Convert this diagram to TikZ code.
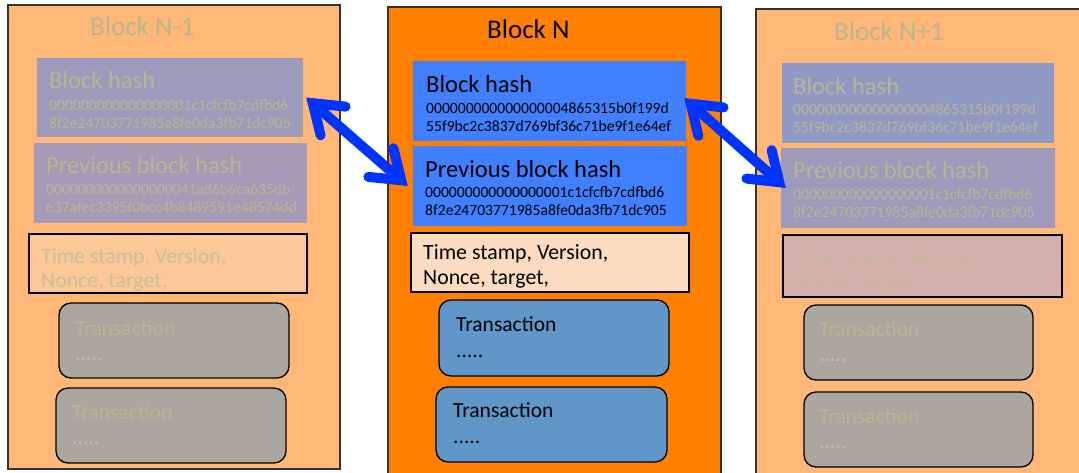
\documentclass[tikz,border=0pt]{standalone}
\usepackage{fontspec}
\setmainfont{Carlito}
\usetikzlibrary{arrows.meta,fit}

% block colours
\definecolor{sideorange}{HTML}{FFB877}
\definecolor{midorange}{HTML}{FF7F00}
\definecolor{blockline}{HTML}{333333}
\definecolor{lhashfill}{HTML}{9C9BBB}
\definecolor{lprevfill}{HTML}{A49CB6}
\definecolor{lmetafill}{HTML}{FCC898}
\definecolor{rhashfill}{HTML}{8F99C4}
\definecolor{rprevfill}{HTML}{9E9ABB}
\definecolor{rmetafill}{HTML}{D4B1AD}
\definecolor{txgrey}{HTML}{AAA6A0}
\definecolor{midblue}{HTML}{4080FF}
\definecolor{midmeta}{HTML}{FCDCC0}
\definecolor{midtx}{HTML}{6096C8}
\definecolor{linkblue}{HTML}{0033FF}
% faded text colours
\definecolor{fadetext}{HTML}{B8B792}
\definecolor{fademeta}{HTML}{C6BE9C}
\definecolor{fadepink}{HTML}{C6B79E}
\definecolor{fadedots}{HTML}{C8C49A}

\begin{document}
\begin{tikzpicture}[x=1pt,y=-1pt,
  blockbox/.style={draw=blockline, line width=1.2pt, inner sep=0pt},
  hashbox/.style={inner sep=0pt},
  metabox/.style={draw=black, line width=1.3pt, inner sep=0pt},
  txbox/.style={draw=black, line width=1.3pt, rounded corners=12pt, inner sep=0pt},
  txt/.style={anchor=base west, inner sep=0pt},
  titletxt/.style={txt, font=\fontsize{27}{30}\selectfont},
  headtxt/.style={txt, font=\fontsize{24.5}{27}\selectfont},
  hashtxt/.style={txt, font=\fontsize{15.6}{18}\selectfont},
  metatxt/.style={txt, font=\fontsize{21.8}{25}\selectfont},
  txtxt/.style={txt, font=\fontsize{21.5}{25}\selectfont},
  barb/.tip={Straight Barb[length=27pt, width=38pt, line cap=round, line join=miter]},
  link/.style={draw=linkblue, line width=10pt, barb-barb}
]
\useasboundingbox (0,0) rectangle (1079,472);

% ---------- Block N-1 ----------
\node[blockbox, fill=sideorange, fit={(8,5) (340,469)}] (lblock) {};
\node[hashbox, fill=lhashfill, fit={(37,58) (303,137)}] (lhash) {};
\node[hashbox, fill=lprevfill, fit={(34,143) (307,223)}] (lprev) {};
\node[metabox, fill=lmetafill, fit={(29,234) (307,293)}] (lmeta) {};
\node[txbox, fill=txgrey, fit={(59,303) (289,378)}] (ltx1) {};
\node[txbox, fill=txgrey, fit={(56,388) (286,463)}] (ltx2) {};

\node[titletxt, text=fadetext] (ltitle) at (90,35) {Block N-1};
\node[headtxt, text=fadetext] (lhash-h) at (49,88) {Block hash};
\node[hashtxt, text=fadetext] (lhash-a) at (49,110) {000000000000000001c1cfcfb7cdfbd6};
\node[hashtxt, text=fadetext] (lhash-b) at (49,128) {8f2e24703771985a8fe0da3fb71dc905};
\node[headtxt, text=fadetext] (lprev-h) at (46,173) {Previous block hash};
\node[hashtxt, text=fadetext] (lprev-a) at (46,194) {0000000000000000041ad6b6ca635db};
\node[hashtxt, text=fadetext] (lprev-b) at (46,212) {e37afec3395f0bcc4b8489591e48574dd};
\node[metatxt, text=fademeta] (lmeta-a) at (41,263) {Time stamp, Version,};
\node[metatxt, text=fademeta] (lmeta-b) at (41,287) {Nonce, target,};
\node[txtxt, text=fadetext] (ltx1-h) at (75,335) {Transaction};
\node[txtxt, text=fadedots] (ltx1-d) at (75,360) {.....};
\node[txtxt, text=fadetext] (ltx2-h) at (72,419) {Transaction};
\node[txtxt, text=fadedots] (ltx2-d) at (72,444) {.....};

% ---------- Block N ----------
\node[blockbox, fill=midorange, fit={(388,7) (721,480)}] (mblock) {};
\node[hashbox, fill=midblue, fit={(413,61) (686,141)}] (mhash) {};
\node[hashbox, fill=midblue, fit={(413,146) (687,226)}] (mprev) {};
\node[metabox, fill=midmeta, fit={(411,233) (689,292)}] (mmeta) {};
\node[txbox, fill=midtx, fit={(439,300) (669,376)}] (mtx1) {};
\node[txbox, fill=midtx, fit={(436,387) (667,462)}] (mtx2) {};

\node[titletxt] (mtitle) at (487,38) {Block N};
\node[headtxt] (mhash-h) at (426,92) {Block hash};
\node[hashtxt] (mhash-a) at (426,113) {000000000000000004865315b0f199d};
\node[hashtxt] (mhash-b) at (426,131) {55f9bc2c3837d769bf36c71be9f1e64ef};
\node[headtxt] (mprev-h) at (425,177) {Previous block hash};
\node[hashtxt] (mprev-a) at (425,197) {000000000000000001c1cfcfb7cdfbd6};
\node[hashtxt] (mprev-b) at (425,215) {8f2e24703771985a8fe0da3fb71dc905};
\node[metatxt] (mmeta-a) at (423,259) {Time stamp, Version,};
\node[metatxt] (mmeta-b) at (423,284) {Nonce, target,};
\node[txtxt] (mtx1-h) at (456,331) {Transaction};
\node[txtxt] (mtx1-d) at (456,357) {.....};
\node[txtxt] (mtx2-h) at (453,417) {Transaction};
\node[txtxt] (mtx2-d) at (453,443) {.....};

% ---------- Block N+1 ----------
\node[blockbox, fill=sideorange, fit={(756,9) (1090,480)}] (rblock) {};
\node[hashbox, fill=rhashfill, fit={(782,63) (1054,143)}] (rhash) {};
\node[hashbox, fill=rprevfill, fit={(781,148) (1055,228)}] (rprev) {};
\node[metabox, fill=rmetafill, fit={(783,235) (1062,297)}] (rmeta) {};
\node[txbox, fill=txgrey, fit={(804,305) (1033,380)}] (rtx1) {};
\node[txbox, fill=txgrey, fit={(804,392) (1033,467)}] (rtx2) {};

\node[titletxt, text=fadetext] (rtitle) at (834,40) {Block N+1};
\node[headtxt, text=fadetext] (rhash-h) at (793,94) {Block hash};
\node[hashtxt, text=fadetext] (rhash-a) at (793,114) {000000000000000004865315b0f199d};
\node[hashtxt, text=fadetext] (rhash-b) at (793,132) {55f9bc2c3837d769bf36c71be9f1e64ef};
\node[headtxt, text=fadetext] (rprev-h) at (793,178) {Previous block hash};
\node[hashtxt, text=fadetext] (rprev-a) at (793,199) {000000000000000001c1cfcfb7cdfbd6};
\node[hashtxt, text=fadetext] (rprev-b) at (793,217) {8f2e24703771985a8fe0da3fb71dc905};
\node[metatxt, text=fadepink] (rmeta-a) at (795,263) {Time stamp, Version,};
\node[metatxt, text=fadepink] (rmeta-b) at (795,288) {Nonce, target,};
\node[txtxt, text=fadetext] (rtx1-h) at (819,336) {Transaction};
\node[txtxt, text=fadedots] (rtx1-d) at (819,361) {.....};
\node[txtxt, text=fadetext] (rtx2-h) at (819,423) {Transaction};
\node[txtxt, text=fadedots] (rtx2-d) at (819,448) {.....};

% ---------- hash links ----------
\draw[link] ([xshift=3pt]lhash.east) -- ([xshift=-5pt]mprev.west);
\draw[link] ([xshift=-2pt,yshift=3pt]mhash.east) -- ([xshift=5pt]rprev.west);
\end{tikzpicture}
\end{document}
